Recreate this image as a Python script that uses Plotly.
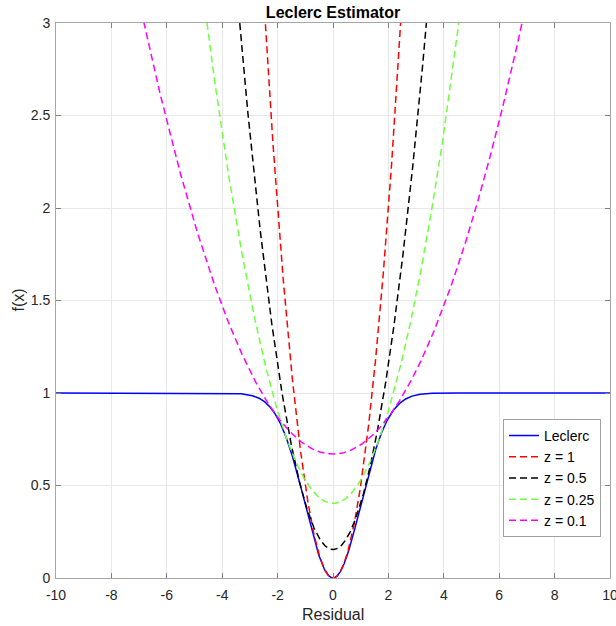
import numpy as np
import plotly.graph_objects as go

# Leclerc estimator f(x) = 1 - exp(-x^2 / (2 sigma^2)) and its half-quadratic
# majorizers q_z(x) = z/2 * x^2 + psi(z), tangent where exp(-x^2/(2 sigma^2)) = z
sigma = 1.0
z_values = [1, 0.5, 0.25, 0.1]
z_labels = ["z = 1", "z = 0.5", "z = 0.25", "z = 0.1"]
z_colors = ["#ff0000", "#000000", "#70ff40", "#ff00ff"]
x_range = [-10, 10]
y_range = [0, 3]
x_ticks = [-10, -8, -6, -4, -2, 0, 2, 4, 6, 8, 10]
x_ticklabels = ["-10", "-8", "-6", "-4", "-2", "0", "2", "4", "6", "8", "10"]
y_ticks = [0, 0.5, 1, 1.5, 2, 2.5, 3]
y_ticklabels = ["0", "0.5", "1", "1.5", "2", "2.5", "3"]

x = np.linspace(x_range[0], x_range[1], 4001)


def leclerc(r):
    return 1.0 - np.exp(-r ** 2 / (2 * sigma ** 2))


def majorizer(r, z):
    # tangent point r0 where weight equals z
    r0_sq = -2 * sigma ** 2 * np.log(z * sigma ** 2) if z * sigma ** 2 < 1 else 0.0
    psi = leclerc(np.sqrt(r0_sq)) - 0.5 * z * r0_sq
    return 0.5 * z * r ** 2 + psi


FONT = "Arial, Liberation Sans, Helvetica, sans-serif"

fig = go.Figure()
fig.add_trace(go.Scatter(x=x, y=leclerc(x), mode="lines", name="Leclerc",
                         line=dict(color="#0000ff", width=1.5)))
for z, lab, col in zip(z_values, z_labels, z_colors):
    q = majorizer(x, z)
    keep = q <= 3.3
    fig.add_trace(go.Scatter(x=x[keep], y=q[keep], mode="lines", name=lab,
                             line=dict(color=col, width=1.5, dash="7px,4px")))

axis_common = dict(
    showgrid=True, gridcolor="#e8e8e8", gridwidth=1,
    showline=True, linecolor="#a6a6a6", linewidth=1, mirror="ticks",
    ticks="inside", ticklen=5, tickcolor="#808080", tickwidth=1,
    zeroline=False, ticklabeloverflow="allow", automargin=False,
    tickfont=dict(family=FONT, size=14, color="#262626"),
)

fig.update_layout(
    width=616, height=626,
    margin=dict(l=56, r=6, t=23, b=48),
    paper_bgcolor="white", plot_bgcolor="white",
    font=dict(family=FONT, size=14, color="#262626"),
    title=dict(text="<b>Leclerc Estimator</b>", x=0.5, xref="paper",
               y=1 - 12 / 626, yref="container", yanchor="middle",
               font=dict(family=FONT, size=16, color="#000000")),
    xaxis=dict(range=x_range, tickvals=x_ticks, ticktext=x_ticklabels,
               ticklabelstandoff=4, **axis_common),
    yaxis=dict(range=y_range, tickvals=y_ticks, ticktext=y_ticklabels,
               ticklabelstandoff=2, **axis_common),
    legend=dict(x=(601 - 56) / 554, y=0.074, xanchor="right", yanchor="bottom",
                bgcolor="white", bordercolor="#a0a0a0", borderwidth=1,
                font=dict(family=FONT, size=14, color="#000000"),
                tracegroupgap=0),
    showlegend=True,
    annotations=[
        dict(text="Residual", xref="paper", yref="paper", x=0.5, y=-36 / 555,
             xanchor="center", yanchor="middle", showarrow=False,
             font=dict(family=FONT, size=16, color="#262626")),
        dict(text="f(x)", xref="paper", yref="paper", x=-38 / 554, y=0.5,
             xanchor="center", yanchor="middle", showarrow=False, textangle=-90,
             font=dict(family=FONT, size=16, color="#262626")),
    ],
)

fig.write_html("out.html")
